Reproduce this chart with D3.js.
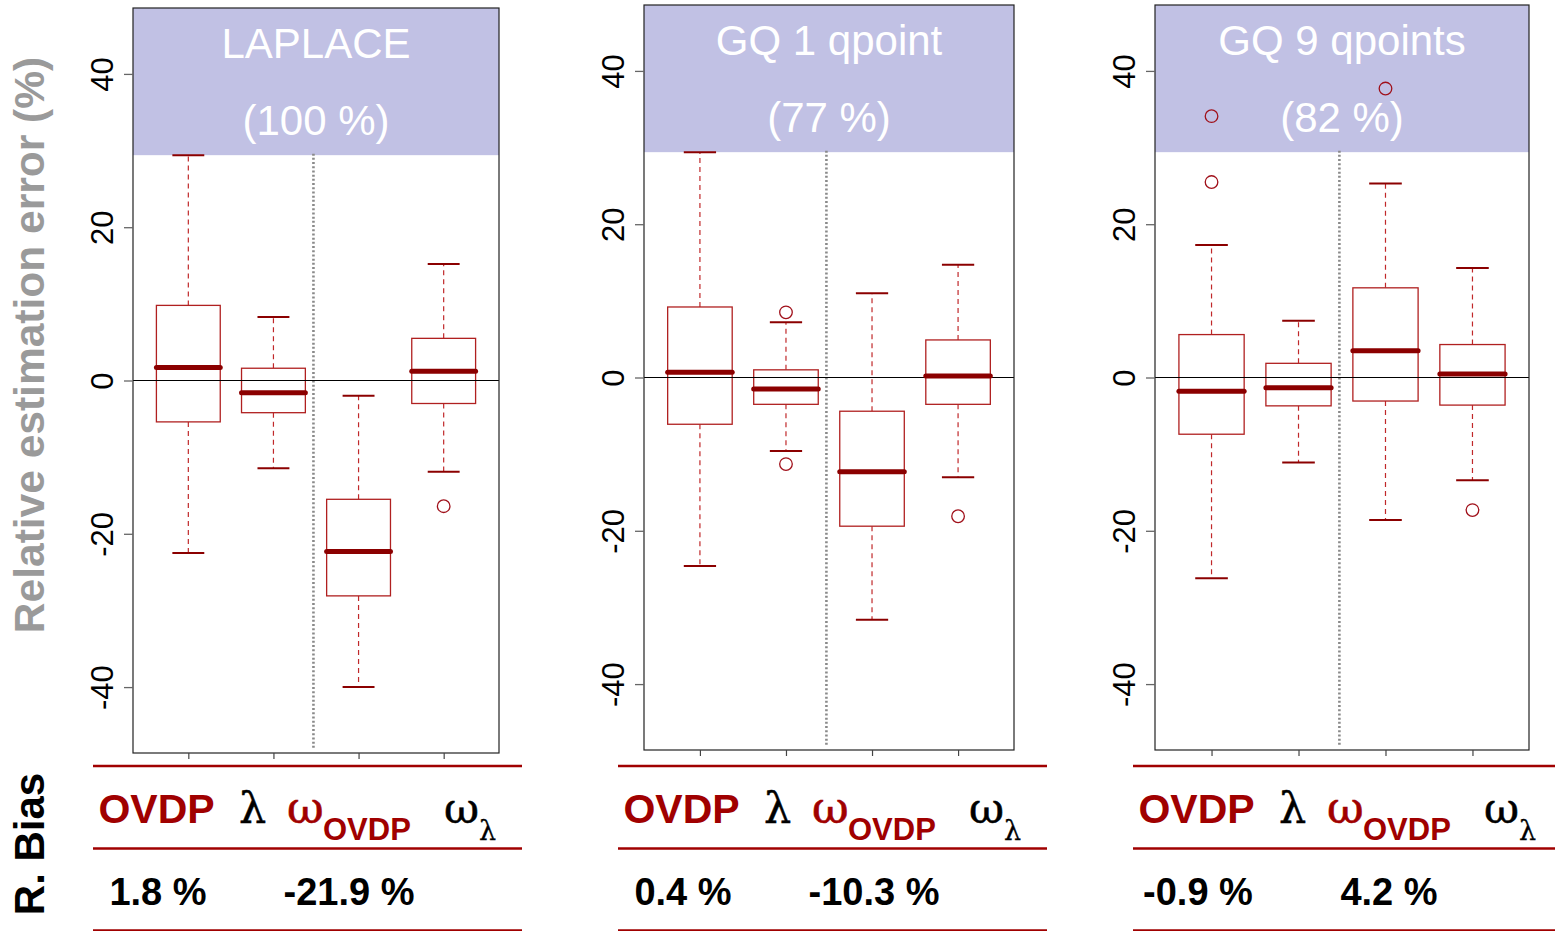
<!DOCTYPE html>
<html>
<head>
<meta charset="utf-8">
<script src="https://cdn.jsdelivr.net/npm/d3@7"></script>
<style>
  html, body { margin: 0; padding: 0; background: #fff; }
  svg { display: block; }
</style>
</head>
<body>
<svg id="chart" width="1555" height="931"></svg>
<script>
// ---- data ----------------------------------------------------------------
const methods = ["LAPLACE", "GQ 1 qpoint", "GQ 9 qpoints"];
const convergence = ["(100 %)", "(77 %)", "(82 %)"];
const parameters = ["OVDP", "λ", "ωOVDP", "ωλ"];
const yTicks = [-40, -20, 0, 20, 40];

// five-number summaries per parameter: [lower whisker, Q1, median, Q3, upper whisker]
const laplaceStats = [
  [-22.5, -5.4, 1.7, 9.8, 29.4],
  [-11.45, -4.2, -1.6, 1.6, 8.3],
  [-40.0, -28.1, -22.3, -15.5, -2.0],
  [-11.9, -3.0, 1.2, 5.5, 15.2]
];
const gq1Stats = [
  [-24.6, -6.1, 0.7, 9.2, 29.4],
  [-9.6, -3.5, -1.5, 1.0, 7.2],
  [-31.6, -19.4, -12.3, -4.4, 11.0],
  [-13.0, -3.5, 0.2, 4.9, 14.7]
];
const gq9Stats = [
  [-26.2, -7.4, -1.8, 5.6, 17.3],
  [-11.1, -3.7, -1.33, 1.85, 7.4],
  [-18.6, -3.07, 3.5, 11.7, 25.3],
  [-13.4, -3.6, 0.46, 4.3, 14.3]
];
// outlying values per parameter
const laplaceOutliers = [[], [], [], [-16.4]];
const gq1Outliers = [[], [8.5, -11.3], [], [-18.1]];
const gq9Outliers = [[34.1, 25.5], [], [37.7], [-17.3]];

// threshold above which the header band is shaded
const bandFloor = 29.4;

// relative bias table
const biasOVDP = ["1.8 %", "0.4 %", "-0.9 %"];
const biasOmegaOVDP = ["-21.9 %", "-10.3 %", "4.2 %"];

// ---- layout --------------------------------------------------------------
const allStats = [laplaceStats, gq1Stats, gq9Stats];
const allOutliers = [laplaceOutliers, gq1Outliers, gq9Outliers];
const frames = [
  { left: 133, right: 499, top: 8, bottom: 753 },
  { left: 644, right: 1014, top: 5, bottom: 750 },
  { left: 1155, right: 1529, top: 5, bottom: 750 }
];
const tableLefts = [93, 618, 1133];

const RED = "#a00000";
const DARK = "#8b0000";
const SANS = "'Liberation Sans', Arial, Helvetica, sans-serif";
const GREEK = "'DejaVu Serif', 'Liberation Serif', serif";

const svg = d3.select("#chart");

// ---- panels --------------------------------------------------------------
frames.forEach((f, i) => {
  const stats = allStats[i];
  const outs = allOutliers[i];
  const x = d3.scaleLinear().domain([0.35, 4.65]).range([f.left, f.right]);
  const y = d3.scaleLinear().domain([-48.6, 48.6]).range([f.bottom, f.top]);
  const g = svg.append("g");
  const bw = (x(1) - x(0)) * 0.75;

  // shaded header band
  g.append("rect")
    .attr("x", f.left).attr("y", f.top)
    .attr("width", f.right - f.left)
    .attr("height", y(bandFloor) - f.top)
    .attr("fill", "#c1c1e4");

  // separator between OVDP/λ and ω parameters
  g.append("line")
    .attr("x1", x(2.47)).attr("x2", x(2.47))
    .attr("y1", y(bandFloor + 0.2)).attr("y2", y(-48.2))
    .attr("stroke", "#8a8a8a").attr("stroke-width", 2.6)
    .attr("stroke-dasharray", "2,2.2");

  stats.forEach((s, k) => {
    const cx = x(k + 1);
    const [lo, q1, med, q3, hi] = s;
    const bg = g.append("g");
    // whiskers
    [[q3, hi], [q1, lo]].forEach(([a, b]) => {
      bg.append("line")
        .attr("x1", cx).attr("x2", cx)
        .attr("y1", y(a)).attr("y2", y(b))
        .attr("stroke", "#c0282a").attr("stroke-width", 1.2)
        .attr("stroke-dasharray", "5,4");
      bg.append("line")
        .attr("x1", cx - bw / 4).attr("x2", cx + bw / 4)
        .attr("y1", y(b)).attr("y2", y(b))
        .attr("stroke", DARK).attr("stroke-width", 2);
    });
    // box
    bg.append("rect")
      .attr("x", cx - bw / 2).attr("y", y(q3))
      .attr("width", bw).attr("height", y(q1) - y(q3))
      .attr("fill", "#fff")
      .attr("stroke", "#b02020").attr("stroke-width", 1.3);
    // outliers
    bg.selectAll("circle").data(outs[k]).join("circle")
      .attr("cx", cx).attr("cy", d => y(d)).attr("r", 6.3)
      .attr("fill", "none").attr("stroke", "#a0101a").attr("stroke-width", 1.3);
  });

  // reference line at zero, running through the boxes
  g.append("line")
    .attr("x1", f.left).attr("x2", f.right)
    .attr("y1", y(0)).attr("y2", y(0))
    .attr("stroke", "#000").attr("stroke-width", 1.1);

  // medians on top
  stats.forEach((s, k) => {
    const cx = x(k + 1);
    g.append("line")
      .attr("x1", cx - bw / 2).attr("x2", cx + bw / 2)
      .attr("y1", y(s[2])).attr("y2", y(s[2]))
      .attr("stroke", DARK).attr("stroke-width", 5)
      .attr("stroke-linecap", "round");
  });

  // frame
  g.append("rect")
    .attr("x", f.left).attr("y", f.top)
    .attr("width", f.right - f.left).attr("height", f.bottom - f.top)
    .attr("fill", "none").attr("stroke", "#222").attr("stroke-width", 1.2);

  // y axis
  const ya = g.append("g")
    .attr("transform", `translate(${f.left},0)`)
    .call(d3.axisLeft(y).tickValues(yTicks).tickSize(9).tickFormat(d => String(d)));
  ya.select(".domain").remove();
  ya.selectAll(".tick line").attr("stroke", "#666").attr("stroke-width", 1.3);
  ya.selectAll(".tick text")
    .attr("x", null).attr("dy", null).attr("y", null)
    .attr("transform", "translate(-20,0) rotate(-90)")
    .attr("text-anchor", "middle")
    .attr("font-family", SANS).attr("font-size", 31).attr("fill", "#000");

  // x axis ticks (no labels)
  const xa = g.append("g")
    .attr("transform", `translate(0,${f.bottom})`)
    .call(d3.axisBottom(x).tickValues([1, 2, 3, 4]).tickSize(6).tickFormat(""));
  xa.select(".domain").remove();
  xa.selectAll(".tick line").attr("stroke", "#444").attr("stroke-width", 1.2);

  // titles
  const cxm = (f.left + f.right) / 2;
  g.append("text")
    .attr("x", cxm).attr("y", f.top + 50)
    .attr("text-anchor", "middle")
    .attr("font-family", SANS).attr("font-size", 42).attr("fill", "#fff")
    .text(methods[i]);
  g.append("text")
    .attr("x", cxm).attr("y", f.top + 127)
    .attr("text-anchor", "middle")
    .attr("font-family", SANS).attr("font-size", 42).attr("fill", "#fff")
    .text(convergence[i]);
});

// ---- y axis title --------------------------------------------------------
svg.append("text")
  .attr("transform", "translate(44,345) rotate(-90)")
  .attr("text-anchor", "middle")
  .attr("font-family", SANS).attr("font-weight", "bold")
  .attr("font-size", 42.5).attr("fill", "#9a9a9a")
  .text("Relative estimation error (%)");

svg.append("text")
  .attr("transform", "translate(44,844) rotate(-90)")
  .attr("text-anchor", "middle")
  .attr("font-family", SANS).attr("font-weight", "bold")
  .attr("font-size", 42).attr("fill", "#000")
  .text("R. Bias");

// ---- bias table ----------------------------------------------------------
tableLefts.forEach((tx, i) => {
  const t = svg.append("g").attr("transform", `translate(${tx},0)`);
  const w = Math.min(429, 1555 - tx);
  [766, 848.5, 930.5].forEach(ly => {
    t.append("line")
      .attr("x1", 0).attr("x2", w).attr("y1", ly).attr("y2", ly)
      .attr("stroke", RED).attr("stroke-width", 2.6);
  });

  // header row
  t.append("text")
    .attr("x", 63.5).attr("y", 823).attr("text-anchor", "middle")
    .attr("font-family", SANS).attr("font-weight", "bold")
    .attr("font-size", 41).attr("fill", RED)
    .text(parameters[0]);
  t.append("text")
    .attr("x", 146).attr("y", 823)
    .attr("font-family", GREEK).attr("font-size", 43)
    .attr("fill", "#000").attr("stroke", "#000").attr("stroke-width", 0.5)
    .text(parameters[1]);
  const w1 = t.append("text")
    .attr("x", 194).attr("y", 823)
    .attr("font-family", GREEK).attr("fill", RED);
  w1.append("tspan")
    .attr("font-size", 45).attr("stroke", RED).attr("stroke-width", 0.6)
    .text(parameters[2].charAt(0));
  w1.append("tspan")
    .attr("x", 230).attr("y", 840)
    .attr("font-family", SANS).attr("font-weight", "bold").attr("font-size", 31)
    .text(parameters[2].slice(1));
  const w2 = t.append("text")
    .attr("x", 351).attr("y", 823)
    .attr("font-family", GREEK).attr("fill", "#000")
    .attr("stroke", "#000").attr("stroke-width", 0.5);
  w2.append("tspan").attr("font-size", 43).text(parameters[3].charAt(0));
  w2.append("tspan")
    .attr("x", 386).attr("y", 840)
    .attr("font-size", 27).attr("stroke-width", 0.3)
    .text(parameters[3].slice(1));

  // values row
  t.append("text")
    .attr("x", 65).attr("y", 905).attr("text-anchor", "middle")
    .attr("font-family", SANS).attr("font-weight", "bold")
    .attr("font-size", 38).attr("fill", "#000")
    .text(biasOVDP[i]);
  t.append("text")
    .attr("x", 256).attr("y", 905).attr("text-anchor", "middle")
    .attr("font-family", SANS).attr("font-weight", "bold")
    .attr("font-size", 38).attr("fill", "#000")
    .text(biasOmegaOVDP[i]);
});
</script>
</body>
</html>
